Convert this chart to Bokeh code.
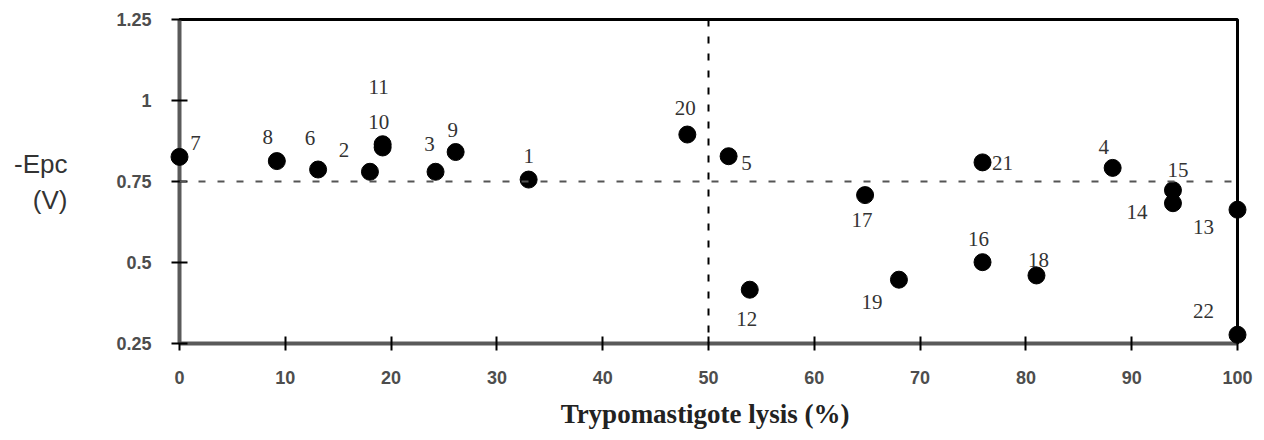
from bokeh.plotting import figure
from bokeh.models import ColumnDataSource, FixedTicker, Span
from bokeh.core.properties import value
from bokeh.embed import file_html
from bokeh.resources import INLINE

# ---- data ----
ids = ["1", "2", "3", "4", "5", "6", "7", "8", "9", "10", "11",
       "12", "13", "14", "15", "16", "17", "18", "19", "20", "21", "22"]
lysis = [33.0, 18.0, 24.2, 88.2, 51.9, 13.1, 0.0, 9.2, 26.1, 19.2, 19.2,
         53.9, 100.0, 93.9, 93.9, 75.9, 64.8, 81.0, 68.0, 48.0, 75.9, 100.0]
epc = [0.756, 0.780, 0.780, 0.792, 0.828, 0.787, 0.826, 0.813, 0.841, 0.855, 0.865,
       0.416, 0.663, 0.683, 0.723, 0.501, 0.708, 0.460, 0.447, 0.895, 0.809, 0.277]
# label offsets in screen pixels (style only)
label_dx = [0, -26, -6, -9, 18, -8, 16, -9, -3, -4, -4,
            -3, -34, -36, 5, -4, -3, 2, -27, -2, 20, -34]
label_dy = [-24, -22, -28, -21, 7, -32, -14, -24, -22, -25, -57,
            29, 17, 9, -20, -23, 25, -15, 22, -27, 1, -24]

x_ticks = [0, 10, 20, 30, 40, 50, 60, 70, 80, 90, 100]
y_ticks = [0.25, 0.5, 0.75, 1.0, 1.25]
y_tick_labels = ["0.25", "0.5", "0.75", "1", "1.25"]
x_threshold = 50
y_threshold = 0.75

src = ColumnDataSource(dict(x=lysis, y=epc, id=ids, dx=label_dx, dy=label_dy))

p = figure(width=1264, height=440, frame_width=1058, frame_height=324,
           min_border_left=179, min_border_right=27, min_border_top=19, min_border_bottom=97,
           x_range=(0, 100), y_range=(0.25, 1.25),
           output_backend="svg", toolbar_location=None)
p.background_fill_color = "white"
p.border_fill_color = "white"
p.outline_line_color = "black"
p.outline_line_width = 3
p.xgrid.visible = False
p.ygrid.visible = False

# reference lines
p.add_layout(Span(location=y_threshold, dimension="width", line_color="#555555",
                  line_width=2, line_dash="7 12"))
p.add_layout(Span(location=x_threshold, dimension="height", line_color="black",
                  line_width=2, line_dash="7 10"))

p.scatter("x", "y", source=src, size=17, marker="circle", fill_color="black",
          line_color="black", level="annotation")
p.text("x", "y", text="id", source=src, x_offset="dx", y_offset="dy",
       text_font=value("Liberation Serif"), text_font_size="21px", text_color="#333333",
       text_align="center", text_baseline="middle", level="annotation")

# axes
for ax in (p.xaxis[0], p.yaxis[0]):
    ax.axis_line_color = "#5a5a5a"
    ax.axis_line_width = 4
    ax.major_tick_line_color = "black"
    ax.major_tick_line_width = 2
    ax.minor_tick_line_color = None
    ax.major_label_text_font = "Liberation Sans"
    ax.major_label_text_font_size = "18px"
    ax.major_label_text_font_style = "bold"
    ax.major_label_text_color = "#4d4d4d"

p.xaxis.ticker = FixedTicker(ticks=x_ticks)
p.xaxis.major_tick_in = 7
p.xaxis.major_tick_out = 7
p.xaxis.major_label_standoff = 20
p.xaxis.axis_label = "Trypomastigote  lysis (%)"
p.xaxis.axis_label_text_font = "Liberation Serif"
p.xaxis.axis_label_text_font_style = "bold"
p.xaxis.axis_label_text_font_size = "27px"
p.xaxis.axis_label_text_color = "#222222"
p.xaxis.axis_label_standoff = 12

p.yaxis.ticker = FixedTicker(ticks=y_ticks)
p.yaxis.major_label_overrides = {t: s for t, s in zip(y_ticks, y_tick_labels)}
p.yaxis.major_tick_in = 8
p.yaxis.major_tick_out = 8
p.yaxis.major_label_standoff = 20
p.yaxis.axis_label = "-Epc\n(V)"
p.yaxis.axis_label_orientation = "horizontal"
p.yaxis.axis_label_text_align = "center"
p.yaxis.axis_label_text_font = "Liberation Sans"
p.yaxis.axis_label_text_font_style = "normal"
p.yaxis.axis_label_text_font_size = "26px"
p.yaxis.axis_label_text_color = "#333333"
p.yaxis.axis_label_standoff = 46

open("out.html", "w").write(file_html(p, INLINE))
